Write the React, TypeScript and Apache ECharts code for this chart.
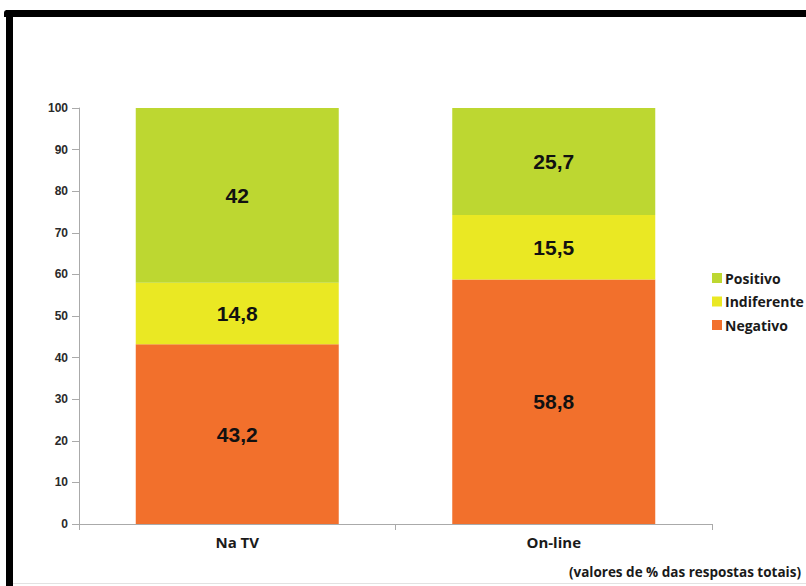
import React, { useEffect, useRef } from "react";
import * as echarts from "echarts";

const categories = ["Na TV", "On-line"];
const negativo = [43.2, 58.8];
const indiferente = [14.8, 15.5];
const positivo = [42, 25.7];
const seriesNames = ["Negativo", "Indiferente", "Positivo"];
const legendOrder = ["Positivo", "Indiferente", "Negativo"];
const note = "(valores de % das respostas totais)";

const colors = ["#F2702C", "#EAE823", "#BDD731"];
const headFont = "Open Sans";

export default function App() {
  const ref = useRef<HTMLDivElement>(null);
  useEffect(() => {
    document.body.style.margin = "0";
    const chart = echarts.init(ref.current!, null, { renderer: "svg" });
    const values = [negativo, indiferente, positivo];
    const label = {
      show: true,
      position: "inside",
      fontFamily: "Liberation Sans",
      fontWeight: "bold",
      fontSize: 21,
      color: "#111",
      formatter: (p: any) => String(p.value).replace(".", ","),
    };
    chart.setOption({
      animation: false,
      backgroundColor: "#fff",
      grid: { left: 79, right: 94, top: 108, bottom: 62 },
      legend: {
        orient: "vertical",
        left: 707,
        top: 266,
        itemWidth: 10,
        itemHeight: 10,
        itemGap: 9.5,
        icon: "rect",
        data: legendOrder,
        textStyle: { fontFamily: headFont, fontWeight: "bold", fontSize: 14, color: "#1a1a1a", padding: [0, 0, 0, -2] },
      },
      xAxis: {
        type: "category",
        data: categories,
        axisLine: { lineStyle: { color: "#aaa", width: 1 } },
        axisTick: { show: true, length: 6, lineStyle: { color: "#aaa" } },
        axisLabel: { margin: 10, fontFamily: headFont, fontWeight: "bold", fontSize: 15, color: "#1a1a1a" },
      },
      yAxis: {
        type: "value",
        min: 0,
        max: 100,
        interval: 10,
        axisLine: { show: true, lineStyle: { color: "#aaa", width: 1 } },
        axisTick: { show: true, length: 7, lineStyle: { color: "#aaa" } },
        splitLine: { show: false },
        axisLabel: { margin: 11, fontFamily: "Liberation Sans", fontWeight: "bold", fontSize: 12, color: "#2a2a2a" },
      },
      series: seriesNames.map((name, i) => ({
        name,
        type: "bar",
        stack: "total",
        barWidth: 203,
        data: values[i],
        itemStyle: { color: colors[i] },
        label,
      })),
      graphic: [
        { type: "rect", shape: { x: 4, y: 10, width: 802, height: 7, r: [3, 0, 0, 0] }, style: { fill: "#000" } },
        { type: "rect", shape: { x: 6, y: 10, width: 7, height: 576 }, style: { fill: "#000" } },
        { type: "line", shape: { x1: 13, y1: 583.5, x2: 806, y2: 583.5 }, style: { stroke: "#e2e2e2", lineWidth: 1 } },
        {
          type: "text",
          x: 801,
          y: 572,
          style: {
            text: note,
            textAlign: "right",
            textVerticalAlign: "middle",
            fontFamily: headFont,
            fontWeight: "bold",
            fontSize: 13.5,
            fill: "#1a1a1a",
          },
        },
      ],
    });
    return () => chart.dispose();
  }, []);
  return <div ref={ref} style={{ width: 806, height: 586 }} />;
}
